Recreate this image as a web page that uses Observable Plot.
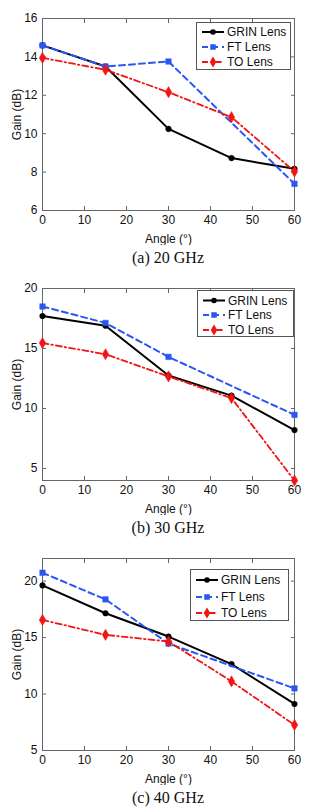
<!DOCTYPE html>
<html>
<head>
<meta charset="utf-8">
<script src="https://cdn.jsdelivr.net/npm/d3@7"></script>
<script src="https://cdn.jsdelivr.net/npm/@observablehq/plot@0.6"></script>
<style>
  html, body { margin: 0; padding: 0; background: #fff; }
  #root { position: relative; width: 328px; height: 812px; overflow: hidden; }
  .panel { position: absolute; left: 0; width: 328px; height: 270px; }
  .panel svg.plotsvg { position: absolute; left: 0; top: 0; }
  .caption { position: absolute; left: 42px; width: 252px; text-align: center;
             font-family: "Liberation Serif", "Times New Roman", serif; font-size: 16px; line-height: 20px; color: #111; }
  .legend { position: absolute; background: #fff; border: 1px solid #555; box-sizing: border-box; }
</style>
</head>
<body>
<div id="root"></div>
<script>
// ---- data ----
const angles = [0, 15, 30, 45, 60];
const ftAngles = [0, 15, 30, 60];
const xTicks = [0, 10, 20, 30, 40, 50, 60];

const grin20 = [14.6, 13.5, 10.25, 8.73, 8.17];
const ft20   = [14.6, 13.5, 13.76, 7.39];
const to20   = [13.95, 13.33, 12.16, 10.86, 8.03];

const grin30 = [17.7, 16.9, 12.75, 11.07, 8.2];
const ft30   = [18.5, 17.13, 14.3, 9.47];
const to30   = [15.45, 14.52, 12.67, 10.87, 4.0];

const grin40 = [19.62, 17.15, 15.09, 12.65, 9.12];
const ft40   = [20.74, 18.38, 14.47, 10.5];
const to40   = [16.56, 15.24, 14.65, 11.12, 7.26];

const seriesNames = ["GRIN Lens", "FT Lens", "TO Lens"];
const captions = ["(a) 20 GHz", "(b) 30 GHz", "(c) 40 GHz"];
const yDomains = [[6, 16], [4, 20], [5, 22]];
const yTicks = [[6, 8, 10, 12, 14, 16], [5, 10, 15, 20], [5, 10, 15, 20]];

// ---- styles ----
const styles = [
  {color: "#000000", dash: null, width: 2, symbol: "circle", r: 2.8},
  {color: "#2a56f2", dash: "6,4", width: 2, symbol: "square", r: 3.1},
  {color: "#f01414", dash: "6,3,1.5,3", width: 1.8, symbol: "diamond", r: 3.4}
];
const legendBoxes = [
  {left: 196, top: 22, width: 95, height: 48, rows: [9, 24, 39]},
  {left: 197, top: 20, width: 97, height: 47, rows: [9.5, 24, 39]},
  {left: 190, top: 29, width: 99, height: 52, rows: [10, 27, 43]}
];

const panels = [
  {g: grin20, f: ft20, t: to20},
  {g: grin30, f: ft30, t: to30},
  {g: grin40, f: ft40, t: to40}
];

const root = document.getElementById("root");

panels.forEach((p, i) => {
  const data = [
    angles.map((a, k) => ({angle: a, gain: p.g[k], s: 0})),
    ftAngles.map((a, k) => ({angle: a, gain: p.f[k], s: 1})),
    angles.map((a, k) => ({angle: a, gain: p.t[k], s: 2}))
  ];
  const div = document.createElement("div");
  div.className = "panel";
  div.style.top = (i * 270) + "px";
  root.appendChild(div);

  const marks = [
    Plot.frame({stroke: "#666"}),
    Plot.axisX({ticks: xTicks, tickSize: -4, tickPadding: 9, stroke: "#666", label: "Angle (°)", labelAnchor: "center", labelArrow: "none", labelOffset: 32}),
    Plot.axisX({anchor: "top", ticks: xTicks, tickSize: -4, tickFormat: () => "", stroke: "#666", label: null}),
    Plot.axisY({ticks: yTicks[i], tickSize: -4, tickPadding: 9, stroke: "#666", label: "Gain (dB)", labelAnchor: "center", labelArrow: "none", labelOffset: 30}),
    Plot.axisY({anchor: "right", ticks: yTicks[i], tickSize: -4, tickFormat: () => "", stroke: "#666", label: null})
  ];
  // plotting order as in the reference: GRIN, FT, TO (TO on top)
  [0, 1, 2].forEach(s => {
    const st = styles[s];
    marks.push(Plot.line(data[s], {x: "angle", y: "gain", stroke: st.color, strokeWidth: st.width, strokeDasharray: st.dash}));
    marks.push(Plot.dot(data[s], {x: "angle", y: "gain", fill: st.color, stroke: st.color, strokeWidth: 0.5, symbol: st.symbol, r: st.r}));
  });

  const chart = Plot.plot({
    width: 328, height: 245,
    marginTop: 18, marginBottom: 35, marginLeft: 42, marginRight: 34,
    x: {domain: [0, 60]},
    y: {domain: yDomains[i]},
    style: {fontFamily: "'Liberation Sans', Arial, sans-serif", fontSize: "12px", color: "#111", background: "transparent"},
    marks
  });
  chart.classList.add("plotsvg");
  div.appendChild(chart);

  // legend
  const lb = legendBoxes[i];
  const lg = document.createElement("div");
  lg.className = "legend";
  Object.assign(lg.style, {left: lb.left + "px", top: lb.top + "px", width: lb.width + "px", height: lb.height + "px"});
  div.appendChild(lg);
  const lsvg = d3.select(lg).append("svg").attr("width", lb.width - 2).attr("height", lb.height - 2)
    .style("position", "absolute").style("left", "0px").style("top", "0px").style("overflow", "visible");
  seriesNames.forEach((name, s) => {
    const st = styles[s];
    const y = lb.rows[s];
    lsvg.append("line").attr("x1", 5).attr("x2", 27).attr("y1", y).attr("y2", y)
      .attr("stroke", st.color).attr("stroke-width", st.width).attr("stroke-dasharray", st.dash);
    const sym = st.symbol === "circle" ? d3.symbolCircle : st.symbol === "square" ? d3.symbolSquare : d3.symbolDiamond;
    lsvg.append("path").attr("d", d3.symbol(sym, Math.PI * st.r * st.r)())
      .attr("transform", `translate(16,${y})`).attr("fill", st.color);
    lsvg.append("text").attr("x", 30).attr("y", y).attr("dy", "0.36em")
      .attr("font-family", "'Liberation Sans', Arial, sans-serif").attr("font-size", 12).attr("fill", "#111")
      .text(name);
  });

  const cap = document.createElement("div");
  cap.className = "caption";
  cap.style.top = "248px";
  cap.textContent = captions[i];
  div.appendChild(cap);
});
</script>
</body>
</html>
